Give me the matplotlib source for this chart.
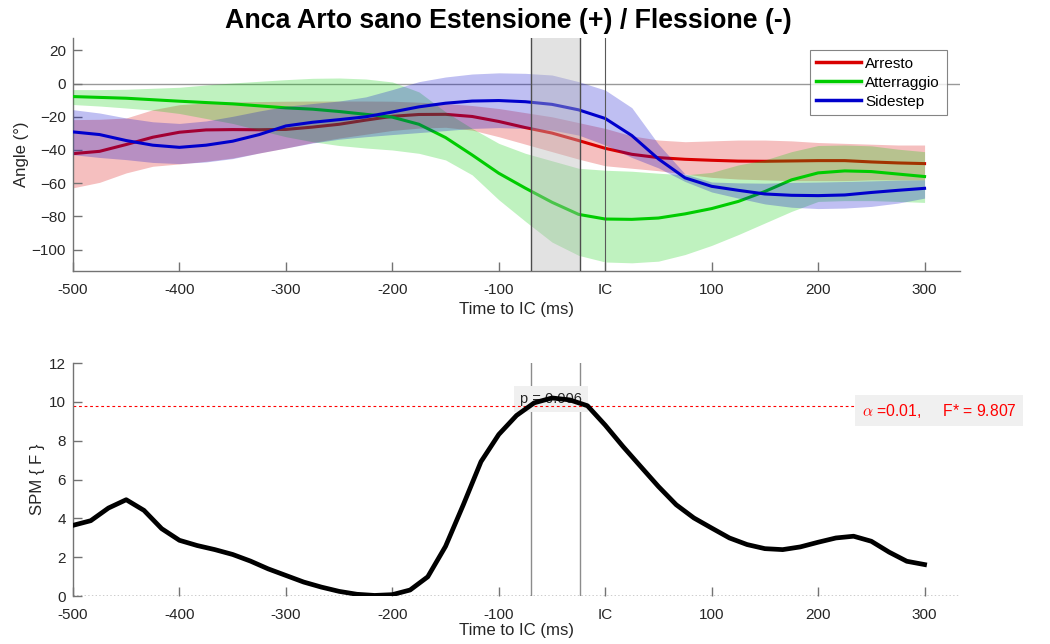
import numpy as np
import matplotlib
matplotlib.use("Agg")
import matplotlib.pyplot as plt
from matplotlib.lines import Line2D

plt.rcParams['font.family'] = ['Liberation Sans', 'DejaVu Sans']
plt.rcParams['mathtext.fontset'] = 'cm'

# --- DATA: top panel (mean +/- band), time to IC in ms ---
time = [-500, -475, -450, -425, -400, -375, -350, -325, -300, -275, -250, -225,
        -200, -175, -150, -125, -100, -75, -50, -25, 0, 25, 50, 75, 100, 125,
        150, 175, 200, 225, 250, 275, 300]

arresto_mean = [-42.2, -40.8, -36.7, -32.3, -29.3, -27.9, -27.7, -27.8, -27.6, -26.2,
                -24.5, -22.0, -19.7, -18.6, -18.5, -19.8, -22.8, -26.5, -29.8, -34.3,
                -39.0, -42.6, -44.6, -45.6, -46.2, -46.7, -46.8, -46.6, -46.4, -46.4,
                -47.2, -47.8, -48.2]
arresto_hi = [-21.7, -21.5, -20.7, -15.7, -12.7, -11.6, -11.0, -10.8, -10.6, -10.5,
              -10.5, -10.5, -10.6, -11.2, -12.0, -13.2, -15.0, -17.5, -20.0, -23.5,
              -27.0, -31.5, -34.0, -35.0, -34.5, -34.0, -34.0, -34.5, -35.5, -36.0,
              -36.5, -37.0, -37.0]
arresto_lo = [-62.8, -59.5, -53.8, -49.8, -48.4, -46.8, -44.8, -41.8, -38.8, -35.5,
              -32.8, -30.5, -28.2, -26.8, -26.3, -28.0, -32.0, -36.5, -41.0, -45.5,
              -49.5, -51.0, -52.5, -54.5, -56.5, -57.5, -58.0, -58.5, -58.5, -58.5,
              -58.0, -58.0, -58.0]

atterr_mean = [-7.8, -8.3, -8.8, -9.7, -10.6, -11.4, -12.2, -13.4, -14.6, -15.4,
               -16.8, -18.5, -20.2, -24.5, -32.5, -43.0, -54.0, -63.0, -71.5, -78.8,
               -81.6, -81.8, -81.0, -78.5, -75.3, -71.0, -65.0, -58.0, -53.8, -52.6,
               -53.0, -54.5, -56.0]
atterr_hi = [-3.6, -3.6, -3.4, -2.8, -2.2, -0.8, 0.4, 1.4, 2.4, 3.2,
             3.4, 2.8, 1.0, -5.0, -17.0, -27.0, -36.0, -42.0, -46.5, -51.0,
             -52.2, -52.8, -54.0, -55.0, -53.5, -49.0, -46.0, -41.0, -37.3, -37.0,
             -37.5, -39.5, -41.0]
atterr_lo = [-12.6, -13.5, -14.7, -16.0, -18.0, -21.0, -24.0, -28.0, -32.0, -35.0,
             -37.3, -38.8, -40.0, -42.0, -46.0, -55.0, -70.0, -83.0, -95.5, -103.5,
             -107.5, -108.0, -107.0, -103.0, -97.5, -91.0, -84.0, -77.0, -71.0, -70.5,
             -70.5, -71.0, -71.6]

side_mean = [-29.1, -30.7, -34.3, -37.1, -38.4, -37.1, -34.7, -30.7, -25.5, -23.3,
             -21.7, -20.0, -17.1, -14.0, -11.8, -10.5, -10.2, -10.9, -12.5, -15.8,
             -21.0, -31.3, -45.4, -56.8, -61.9, -64.3, -66.5, -67.3, -67.5, -67.1,
             -65.6, -64.3, -63.1]
side_hi = [-15.7, -17.7, -20.7, -23.0, -24.0, -22.5, -19.7, -16.5, -13.7, -12.0,
           -10.5, -8.0, -3.6, 1.2, 4.0, 5.8, 6.5, 6.2, 5.2, 1.2,
           -3.9, -14.5, -36.5, -54.5, -59.3, -59.8, -60.0, -59.5, -59.3, -59.0,
           -58.6, -58.2, -58.0]
side_lo = [-42.8, -44.5, -45.8, -47.5, -48.2, -47.2, -45.2, -41.8, -38.8, -35.8,
           -33.5, -32.0, -30.7, -29.5, -28.3, -27.0, -26.5, -27.0, -28.0, -31.0,
           -37.0, -44.5, -50.8, -59.0, -65.3, -69.0, -72.5, -74.5, -75.3, -75.0,
           -74.0, -72.0, -69.0]

# --- DATA: bottom panel (SPM{F}) ---
spm_time = [-500.0, -483.3, -466.7, -450.0, -433.3, -416.7, -400.0, -383.3, -366.7,
            -350.0, -333.3, -316.7, -300.0, -283.3, -266.7, -250.0, -233.3, -216.7,
            -200.0, -183.3, -166.7, -150.0, -133.3, -116.7, -100.0, -83.3, -66.7,
            -50.0, -33.3, -16.7, 0.0, 16.7, 33.3, 50.0, 66.7, 83.3, 100.0, 116.7,
            133.3, 150.0, 166.7, 183.3, 200.0, 216.7, 233.3, 250.0, 266.7, 283.3, 300.0]
spm_f = [3.64, 3.88, 4.53, 4.96, 4.41, 3.47, 2.87, 2.60, 2.39,
         2.14, 1.80, 1.40, 1.06, 0.72, 0.46, 0.24, 0.09, 0.03,
         0.07, 0.31, 0.99, 2.56, 4.70, 6.92, 8.32, 9.30, 9.95,
         10.20, 10.10, 9.80, 8.80, 7.70, 6.67, 5.64, 4.70, 4.02, 3.50, 2.99,
         2.65, 2.44, 2.39, 2.53, 2.77, 2.99, 3.08, 2.82, 2.26, 1.79, 1.62]

f_star = 9.807
cluster = (-70, -24)     # supra-threshold cluster (ms)
p_text = "p = 0.006"
alpha_text = r"$\alpha$ =0.01,     F* = 9.807"

xticks = [-500, -400, -300, -200, -100, 0, 100, 200, 300]
xticklabels = ["-500", "-400", "-300", "-200", "-100", "IC", "100", "200", "300"]

RED = (0.85, 0.0, 0.0)
GREEN = (0.0, 0.8, 0.0)
BLUE = (0.0, 0.0, 0.8)
AXCOL = (0.45, 0.45, 0.45)
TXTCOL = (0.15, 0.15, 0.15)

fig = plt.figure(figsize=(10.5, 6.44), dpi=100)
ax1 = fig.add_axes([0.0695, 0.579, 0.8445, 0.362])
ax2 = fig.add_axes([0.0695, 0.0745, 0.8445, 0.3618])


def style(ax):
    for s in ["top", "right"]:
        ax.spines[s].set_visible(False)
    for s in ["left", "bottom"]:
        ax.spines[s].set_color(AXCOL)
        ax.spines[s].set_linewidth(1.0)
    ax.tick_params(direction="in", length=6.5, width=1.0, color=AXCOL,
                   labelcolor=TXTCOL, labelsize=11)
    ax.tick_params(axis="x", pad=8.5)
    ax.tick_params(axis="y", pad=5)
    ax.set_xticks(xticks)
    ax.set_xticklabels(xticklabels)
    ax.set_xlim(-500, 333)


# --- TOP PANEL ---
style(ax1)
ax1.axhline(0, color=(0.6, 0.6, 0.6), lw=1.0, zorder=0)
series = [("Arresto", arresto_mean, arresto_lo, arresto_hi, RED),
          ("Atterraggio", atterr_mean, atterr_lo, atterr_hi, GREEN),
          ("Sidestep", side_mean, side_lo, side_hi, BLUE)]
z = 1
for name, m, lo, hi, c in series:
    ax1.fill_between(time, lo, hi, color=c, alpha=0.25, lw=0, zorder=z)
    ax1.plot(time, m, color=c, lw=2.2, zorder=z + 1)
    z += 2
ax1.axvspan(cluster[0], cluster[1], color=(0.72, 0.72, 0.72), alpha=0.4, lw=0, zorder=8)
for xv in cluster:
    ax1.axvline(xv, color=(0.3, 0.3, 0.3), lw=1.0, zorder=9)
ax1.axvline(0, color=(0.35, 0.35, 0.35), lw=0.8, zorder=9)
ax1.set_ylim(-113, 27.5)
ax1.set_yticks(np.arange(-100, 21, 20))
ax1.set_ylabel("Angle (°)", fontsize=12.1, color=TXTCOL)
ax1.yaxis.set_label_coords(-0.0496, 0.5)
ax1.set_xlabel("Time to IC (ms)", fontsize=12.1, color=TXTCOL, labelpad=4)
handles = [Line2D([], [], color=c, lw=2.5) for _, _, _, _, c in series]
leg = ax1.legend(handles, [s[0] for s in series], loc="upper right",
                 bbox_to_anchor=(0.9855, 0.95), fontsize=11, frameon=True,
                 fancybox=False, edgecolor=(0.4, 0.4, 0.4), handlelength=2.9,
                 handletextpad=0.3, borderpad=0.45, labelspacing=0.33,
                 borderaxespad=0)
leg.get_frame().set_linewidth(0.8)
leg.set_zorder(20)

fig.text(0.4843, 0.967, "Anca Arto sano Estensione (+) / Flessione (-)",
         ha="center", va="center", fontsize=19.3, fontweight="bold", color="black")

# --- BOTTOM PANEL ---
style(ax2)
ax2.spines["bottom"].set_visible(False)
ax2.axhline(0, color="black", ls=":", lw=1.0, zorder=2)
ax2.set_ylim(0, 12)
ax2.set_yticks(np.arange(0, 13, 2))
for xv in cluster:
    ax2.axvline(xv, color=(0.55, 0.55, 0.55), lw=1.0, zorder=1)
ax2.axhline(f_star, color="red", ls=(0, (2.5, 2.5)), lw=0.8, zorder=2)
ax2.plot(spm_time, spm_f, color="black", lw=3.4, zorder=4)
ax2.text(-51, 10.15, p_text, ha="center", va="center", fontsize=10.5,
         color=TXTCOL, zorder=1.5,
         bbox=dict(boxstyle="square,pad=0.4", facecolor=(0.94, 0.94, 0.94),
                   edgecolor="none"))
ax2.text(241, 9.55, alpha_text, ha="left", va="center", fontsize=11.3,
         color="red", zorder=5, clip_on=False,
         bbox=dict(boxstyle="square,pad=0.4", facecolor=(0.94, 0.94, 0.94),
                   edgecolor="none"))
ax2.set_ylabel("SPM { F }", fontsize=12.1, color=TXTCOL)
ax2.yaxis.set_label_coords(-0.0316, 0.5)
ax2.set_xlabel("Time to IC (ms)", fontsize=12.1, color=TXTCOL, labelpad=1)

fig.savefig("out.png", dpi=100)
